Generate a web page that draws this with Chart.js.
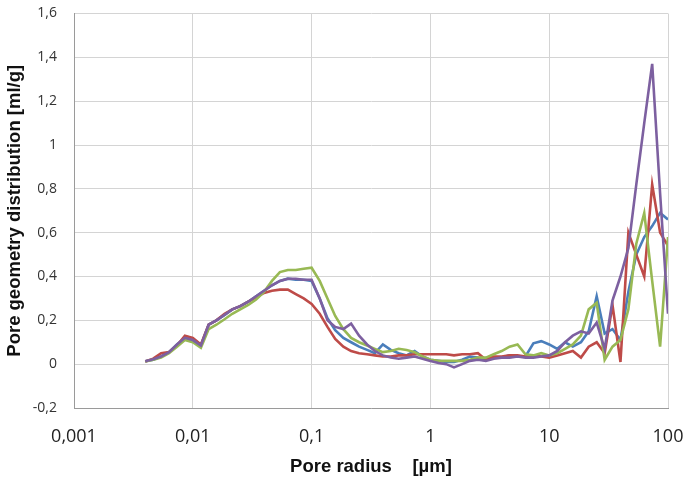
<!DOCTYPE html>
<html>
<head>
<meta charset="utf-8">
<script src="https://cdn.jsdelivr.net/npm/chart.js@4/dist/chart.umd.min.js"></script>
<style>
  html, body { margin: 0; padding: 0; background: #fff; }
  #wrap { width: 685px; height: 485px; }
</style>
</head>
<body>
<div id="wrap"><canvas id="poreChart"></canvas></div>
<script>
// pore radius [µm]
const radius = [0.00398, 0.00464, 0.00541, 0.00631, 0.00736, 0.00858, 0.01, 0.0117, 0.0136, 0.0158,
  0.0185, 0.0215, 0.0251, 0.0293, 0.0341, 0.0398, 0.0464, 0.0541, 0.0631, 0.0736,
  0.0858, 0.1, 0.117, 0.136, 0.158, 0.185, 0.215, 0.251, 0.293, 0.341,
  0.398, 0.464, 0.541, 0.631, 0.736, 0.858, 1, 1.17, 1.36, 1.58,
  1.85, 2.15, 2.51, 2.93, 3.41, 3.98, 4.64, 5.41, 6.31, 7.36,
  8.58, 10, 11.7, 13.6, 15.8, 18.5, 21.5, 25.1, 29.3, 34.1,
  39.8, 46.4, 54.1, 63.1, 73.6, 85.8, 100];

const blueSeries = [0.013, 0.02, 0.035, 0.055, 0.09, 0.12, 0.11, 0.085, 0.18, 0.2,
  0.225, 0.25, 0.265, 0.285, 0.31, 0.335, 0.36, 0.38, 0.39, 0.385,
  0.385, 0.38, 0.3, 0.21, 0.155, 0.12, 0.1, 0.08, 0.065, 0.05,
  0.09, 0.065, 0.05, 0.04, 0.06, 0.035, 0.02, 0.015, 0.01, 0.01,
  0.02, 0.035, 0.03, 0.02, 0.03, 0.03, 0.04, 0.035, 0.035, 0.095,
  0.105, 0.09, 0.07, 0.1, 0.08, 0.1, 0.15, 0.31, 0.14, 0.16,
  0.11, 0.33, 0.5, 0.58, 0.63, 0.69, 0.66];

const redSeries = [0.012, 0.025, 0.05, 0.055, 0.085, 0.13, 0.12, 0.09, 0.18, 0.2,
  0.23, 0.25, 0.265, 0.285, 0.305, 0.325, 0.335, 0.34, 0.34, 0.32,
  0.3, 0.275, 0.23, 0.17, 0.115, 0.08, 0.06, 0.05, 0.045, 0.04,
  0.035, 0.035, 0.04, 0.04, 0.045, 0.045, 0.045, 0.045, 0.045, 0.04,
  0.045, 0.045, 0.05, 0.02, 0.035, 0.035, 0.04, 0.04, 0.035, 0.04,
  0.035, 0.03, 0.04, 0.05, 0.06, 0.03, 0.08, 0.1, 0.05, 0.27,
  0.01, 0.6, 0.5, 0.4, 0.82, 0.6, 0.54];

const greenSeries = [0.012, 0.02, 0.03, 0.05, 0.08, 0.11, 0.1, 0.075, 0.16, 0.18,
  0.205, 0.23, 0.25, 0.27, 0.295, 0.33, 0.38, 0.42, 0.43, 0.43,
  0.435, 0.44, 0.38, 0.3, 0.22, 0.16, 0.12, 0.1, 0.085, 0.07,
  0.055, 0.06, 0.07, 0.065, 0.055, 0.035, 0.02, 0.015, 0.015, 0.015,
  0.015, 0.02, 0.03, 0.03, 0.045, 0.06, 0.08, 0.09, 0.045, 0.04,
  0.05, 0.04, 0.05, 0.07, 0.09, 0.13, 0.25, 0.28, 0.02, 0.08,
  0.11, 0.25, 0.55, 0.69, 0.38, 0.08, 0.58];

const purpleSeries = [0.013, 0.022, 0.035, 0.055, 0.09, 0.12, 0.11, 0.085, 0.18, 0.2,
  0.225, 0.25, 0.265, 0.285, 0.31, 0.335, 0.36, 0.38, 0.39, 0.39,
  0.385, 0.385, 0.3, 0.2, 0.17, 0.16, 0.185, 0.13, 0.09, 0.06,
  0.04, 0.03, 0.025, 0.03, 0.035, 0.025, 0.015, 0.005, 0, -0.015,
  0, 0.015, 0.02, 0.015, 0.025, 0.03, 0.03, 0.035, 0.03, 0.03,
  0.035, 0.04, 0.06, 0.1, 0.13, 0.15, 0.14, 0.19, 0.07, 0.29,
  0.4, 0.53, 0.82, 1.1, 1.37, 0.78, 0.23];

const xTicks = [0.001, 0.01, 0.1, 1, 10, 100];

function toPoints(values) {
  return values.map((v, i) => ({ x: radius[i], y: v }));
}

function lineSet(values, color) {
  return {
    data: toPoints(values),
    borderColor: color,
    borderWidth: 2.6,
    pointRadius: 0,
    tension: 0,
    fill: false
  };
}

const comma = v => String(Math.round(v * 1000) / 1000).replace('.', ',');
const titleFont = { family: "'Liberation Sans', Arial, sans-serif", size: 18.5, weight: "bold" };

new Chart(document.getElementById("poreChart"), {
  type: "line",
  data: {
    // first dataset is drawn on top
    datasets: [
      lineSet(purpleSeries, "#7d60a0"),
      lineSet(greenSeries, "#98b954"),
      lineSet(redSeries, "#be4b48"),
      lineSet(blueSeries, "#4a7ebb")
    ]
  },
  options: {
    responsive: true,
    maintainAspectRatio: false,
    animation: false,
    layout: { padding: { top: 13.5, right: 17, bottom: 0, left: 0 } },
    plugins: { legend: { display: false }, tooltip: { enabled: false } },
    scales: {
      x: {
        type: "logarithmic",
        min: 0.001,
        max: 100,
        afterBuildTicks: axis => { axis.ticks = xTicks.map(v => ({ value: v })); },
        afterFit: axis => { axis.height = 77; },
        // invisible tick marks keep the labels away from the axis
        grid: { color: "#d4d4d4", lineWidth: 1, drawTicks: true, tickLength: 18, tickColor: "rgba(0,0,0,0)" },
        border: { color: "#9a9a9a" },
        ticks: {
          padding: 0,
          color: "#222",
          maxRotation: 0,
          font: { family: "'Open Sans', sans-serif", size: 18 },
          callback: v => comma(v)
        },
        title: {
          display: true,
          text: "Pore radius    [\u00b5m]",
          color: "#111",
          font: titleFont,
          padding: { top: 0, bottom: 7 }
        }
      },
      y: {
        min: -0.2,
        max: 1.6,
        afterFit: axis => { axis.width = 74; },
        grid: { color: "#d4d4d4", lineWidth: 1, drawTicks: true, tickLength: 17, tickColor: "rgba(0,0,0,0)" },
        border: { color: "#9a9a9a" },
        ticks: {
          stepSize: 0.2,
          padding: 0,
          color: "#333",
          font: { family: "'Open Sans', sans-serif", size: 14 },
          callback: v => comma(v)
        },
        title: {
          display: true,
          text: "Pore geometry distribution [ml/g]",
          color: "#111",
          font: titleFont,
          padding: { top: 4, bottom: 0 }
        }
      }
    }
  }
});
</script>
</body>
</html>
